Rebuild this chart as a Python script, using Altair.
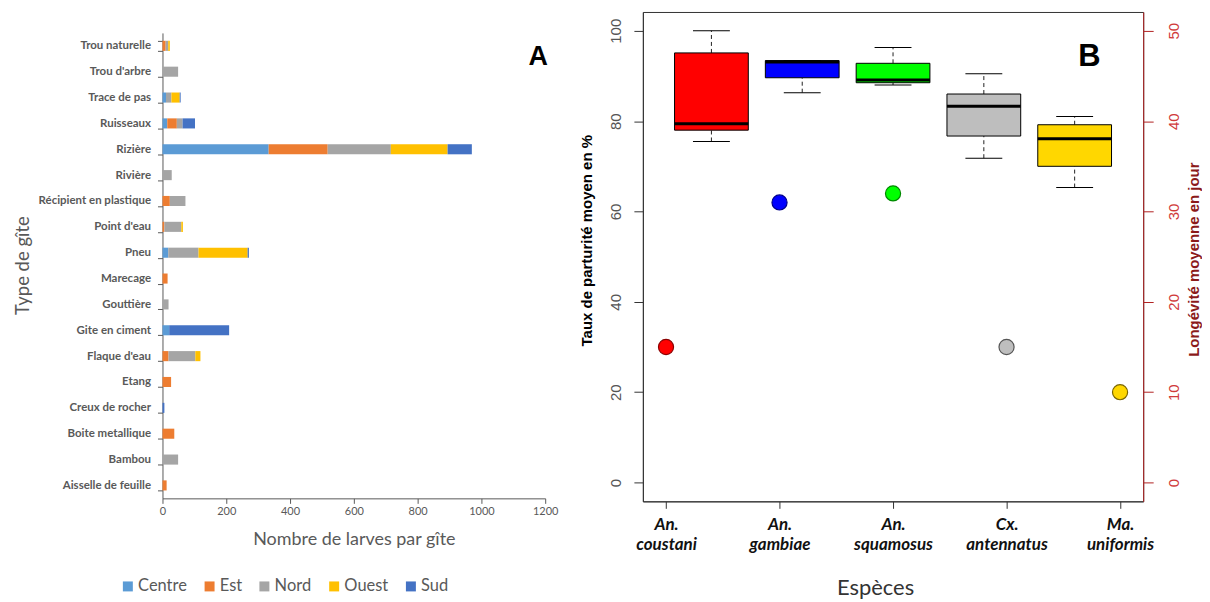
import json
import altair as alt
import pandas as pd

# ---------------- Panel A data ----------------
gites = ["Trou naturelle", "Trou d'arbre", "Trace de pas", "Ruisseaux", "Rizière", "Rivière",
         "Récipient en plastique", "Point d'eau", "Pneu", "Marecage", "Gouttière", "Gite en ciment",
         "Flaque d'eau", "Etang", "Creux de rocher", "Boite metallique", "Bambou", "Aisselle de feuille"]
regions = ["Centre", "Est", "Nord", "Ouest", "Sud"]
centre = [0, 0, 11, 15, 333, 0, 0, 0, 18, 0, 0, 21, 0, 0, 0, 0, 0, 0]
est = [10, 0, 0, 30, 185, 0, 23, 6, 0, 16, 0, 0, 19, 27, 0, 37, 0, 13]
nord = [8, 49, 17, 18, 198, 29, 49, 53, 95, 0, 19, 0, 84, 0, 0, 0, 49, 0]
ouest = [5, 0, 26, 0, 178, 0, 0, 5, 154, 0, 0, 0, 16, 0, 0, 0, 0, 0]
sud = [0, 0, 3, 39, 76, 0, 0, 0, 4, 0, 0, 188, 0, 0, 6, 0, 0, 0]
region_colors = ["#5B9BD5", "#ED7D31", "#A5A5A5", "#FFC000", "#4472C4"]
ticks_a = [0, 200, 400, 600, 800, 1000, 1200]

# ---------------- Panel B data ----------------
species = ["An. coustani", "An. gambiae", "An. squamosus", "Cx. antennatus", "Ma. uniformis"]
species_x = [1, 2, 3, 4, 5]
box_x = [1.4, 2.2, 3.0, 3.8, 4.6]
w_low = [75.5, 86.3, 88.0, 71.8, 65.3]
q1 = [78.0, 89.6, 88.5, 76.7, 70.0]
median = [79.4, 93.1, 89.1, 83.3, 76.1]
q3 = [95.1, 93.4, 92.8, 86.0, 79.2]
w_high = [100.0, 93.4, 96.3, 90.5, 81.0]
longevite = [15, 31, 32, 15, 10]
box_colors = ["#FF0000", "#0000FF", "#00FF00", "#BEBEBE", "#FFD700"]
point_edges = ["#8B0000", "#00008B", "#008800", "#555555", "#7A6500"]
ticks_left = [0, 20, 40, 60, 80, 100]
ticks_right = [0, 10, 20, 30, 40, 50]

# ---------------- Panel A ----------------
rows = []
for reg_i, (reg, vals) in enumerate(zip(regions, [centre, est, nord, ouest, sud])):
    for g, v in zip(gites, vals):
        if v > 0:
            rows.append({"gite": g, "region": reg, "valeur": v, "ordre": reg_i})
df_a = pd.DataFrame(rows)

grey_a = "#595959"
bars = alt.Chart(df_a).mark_bar().encode(
    y=alt.Y("gite:N", sort=gites,
            scale=alt.Scale(paddingInner=0.61, paddingOuter=0.305, range=[21, 488]),
            axis=alt.Axis(title="Type de gîte", domainColor=grey_a, tickColor=grey_a,
                          tickSize=5, tickBand="extent",
                          labelFont="Lato", labelFontWeight="bold", labelFontSize=11.5,
                          labelColor=grey_a, labelPadding=7,
                          titleFont="Lato", titleFontSize=18.5, titleFontWeight="normal",
                          titleColor=grey_a, titleAngle=270, titleAlign="center",
                          titleBaseline="middle", titleX=-140, titleY=254)),
    x=alt.X("valeur:Q", stack="zero",
            scale=alt.Scale(domain=[0, 1200], nice=False),
            axis=alt.Axis(values=ticks_a, format="d", grid=False, domainColor=grey_a,
                          tickColor=grey_a, tickSize=5, labelFont="Lato", labelFontSize=11,
                          labelColor=grey_a, labelFlush=False,
                          title="Nombre de larves par gîte",
                          titleFont="Lato", titleFontSize=18, titleFontWeight="normal",
                          titleColor=grey_a, titleBaseline="middle", titleX=192, titleY=41)),
    color=alt.Color("region:N", sort=regions,
                    scale=alt.Scale(domain=regions, range=region_colors),
                    legend=alt.Legend(title=None, orient="none", legendX=-43, legendY=568,
                                      direction="horizontal", symbolType="square",
                                      symbolSize=100, symbolStrokeWidth=0,
                                      labelFont="Lato", labelFontSize=16.5, labelColor=grey_a,
                                      labelOffset=2, columnPadding=14)),
    order=alt.Order("ordre:Q"),
)

lab_a = pd.DataFrame({"t": ["A"]})
letter_a = alt.Chart(lab_a).mark_text(font="Liberation Sans", fontWeight="bold", fontSize=27,
                                      align="center", baseline="middle", color="black").encode(
    text="t:N", x=alt.value(377), y=alt.value(45))

chart_a = alt.layer(bars, letter_a).properties(
    width=384, height=488, view=alt.ViewBackground(stroke="transparent"))

# ---------------- Panel B ----------------
df_box = pd.DataFrame({"espece": species, "box_x": box_x, "w_low": w_low, "q1": q1,
                       "median": median, "q3": q3, "w_high": w_high, "couleur": box_colors})
df_pts = pd.DataFrame({"espece": species, "sp_x": species_x, "longevite": longevite,
                       "couleur": box_colors, "contour": point_edges})

x_scale = alt.Scale(domain=[0.84, 5.16], nice=False, zero=False)
yl_scale = alt.Scale(domain=[-4.16, 104.16], nice=False, zero=False)
yr_scale = alt.Scale(domain=[-2.08, 52.08], nice=False, zero=False)

label_expr = "split(" + json.dumps(species) + "[round(datum.value) - 1], ' ')"
axis_x = alt.Axis(values=species_x, labelExpr=label_expr, grid=False, domainColor="#333",
                  tickColor="#333", tickSize=7, labelFont="Lato", labelFontStyle="italic",
                  labelFontWeight="bold", labelFontSize=17, labelColor="#111",
                  labelLineHeight=20, labelPadding=8, labelFlush=False,
                  title="Espèces", titleFont="Lato", titleFontSize=22,
                  titleFontWeight="normal", titleColor="#333", titleBaseline="middle",
                  titleX=233, titleY=86)
axis_left = alt.Axis(values=ticks_left, grid=False, domainColor="#333", tickColor="#333",
                     tickSize=9, labelFont="Liberation Sans", labelFontSize=15,
                     labelColor="#555", labelAngle=270, labelAlign="center",
                     labelBaseline="bottom", labelPadding=10,
                     title="Taux de parturité moyen en %", titleFont="Liberation Sans",
                     titleFontSize=15, titleFontWeight="bold", titleColor="black",
                     titleAngle=270, titleAlign="center", titleBaseline="middle",
                     titleX=-57, titleY=229)
axis_right = alt.Axis(values=ticks_right, grid=False, orient="right", domainColor="#B22222",
                      tickColor="#B22222", tickSize=10, labelFont="Liberation Sans",
                      labelFontSize=15, labelColor="#D03A3A", labelAngle=270,
                      labelAlign="center", labelBaseline="top", labelPadding=13,
                      title="Longévité moyenne en jour", titleFont="Liberation Sans",
                      titleFontSize=15, titleFontWeight="bold", titleColor="#8B1A1A",
                      titleAngle=270, titleAlign="center", titleBaseline="middle",
                      titleX=50, titleY=248)

base_b = alt.Chart(df_box)
X_box = alt.X("box_x:Q", scale=x_scale, axis=axis_x)

whisk_hi = base_b.mark_rule(strokeDash=[4, 3], color="#222", strokeWidth=1).encode(
    x=X_box, y=alt.Y("q3:Q", scale=yl_scale, axis=axis_left), y2="w_high:Q")
whisk_lo = base_b.mark_rule(strokeDash=[4, 3], color="#222", strokeWidth=1).encode(
    x=X_box, y=alt.Y("w_low:Q", scale=yl_scale, axis=axis_left), y2="q1:Q")
boxes = base_b.mark_bar(size=74, stroke="black", strokeWidth=1).encode(
    x=X_box, y=alt.Y("q1:Q", scale=yl_scale, axis=axis_left), y2="q3:Q",
    color=alt.Color("couleur:N", scale=None))
meds = base_b.mark_tick(orient="horizontal", size=74, thickness=3, color="black", opacity=1).encode(
    x=X_box, y=alt.Y("median:Q", scale=yl_scale, axis=axis_left))
cap_hi = base_b.mark_tick(orient="horizontal", size=37, thickness=1, color="black", opacity=1).encode(
    x=X_box, y=alt.Y("w_high:Q", scale=yl_scale, axis=axis_left))
cap_lo = base_b.mark_tick(orient="horizontal", size=37, thickness=1, color="black", opacity=1).encode(
    x=X_box, y=alt.Y("w_low:Q", scale=yl_scale, axis=axis_left))
lab_b = pd.DataFrame({"t": ["B"]})
letter_b = alt.Chart(lab_b).mark_text(font="Liberation Sans", fontWeight="bold", fontSize=31,
                                      align="center", baseline="middle", color="black").encode(
    text="t:N", x=alt.value(448), y=alt.value(45))

left_layers = alt.layer(whisk_hi, whisk_lo, boxes, meds, cap_hi, cap_lo, letter_b)

points = alt.Chart(df_pts).mark_circle(size=230, opacity=1, strokeWidth=1.2).encode(
    x=alt.X("sp_x:Q", scale=x_scale, axis=axis_x),
    y=alt.Y("longevite:Q", scale=yr_scale, axis=axis_right),
    color=alt.Color("couleur:N", scale=None),
    stroke=alt.Stroke("contour:N", scale=None))

chart_b = alt.layer(left_layers, points).resolve_scale(y="independent").properties(
    width=502, height=491, view=alt.ViewBackground(stroke="#333", strokeWidth=1))

chart = alt.hconcat(chart_a, chart_b, spacing=19).resolve_scale(
    color="independent").resolve_legend(color="independent").properties(
    padding={"left": 5, "top": -4, "right": 0, "bottom": 0}).configure(background="white")

chart.save("out.html", embed_options={"renderer": "svg", "actions": False})
